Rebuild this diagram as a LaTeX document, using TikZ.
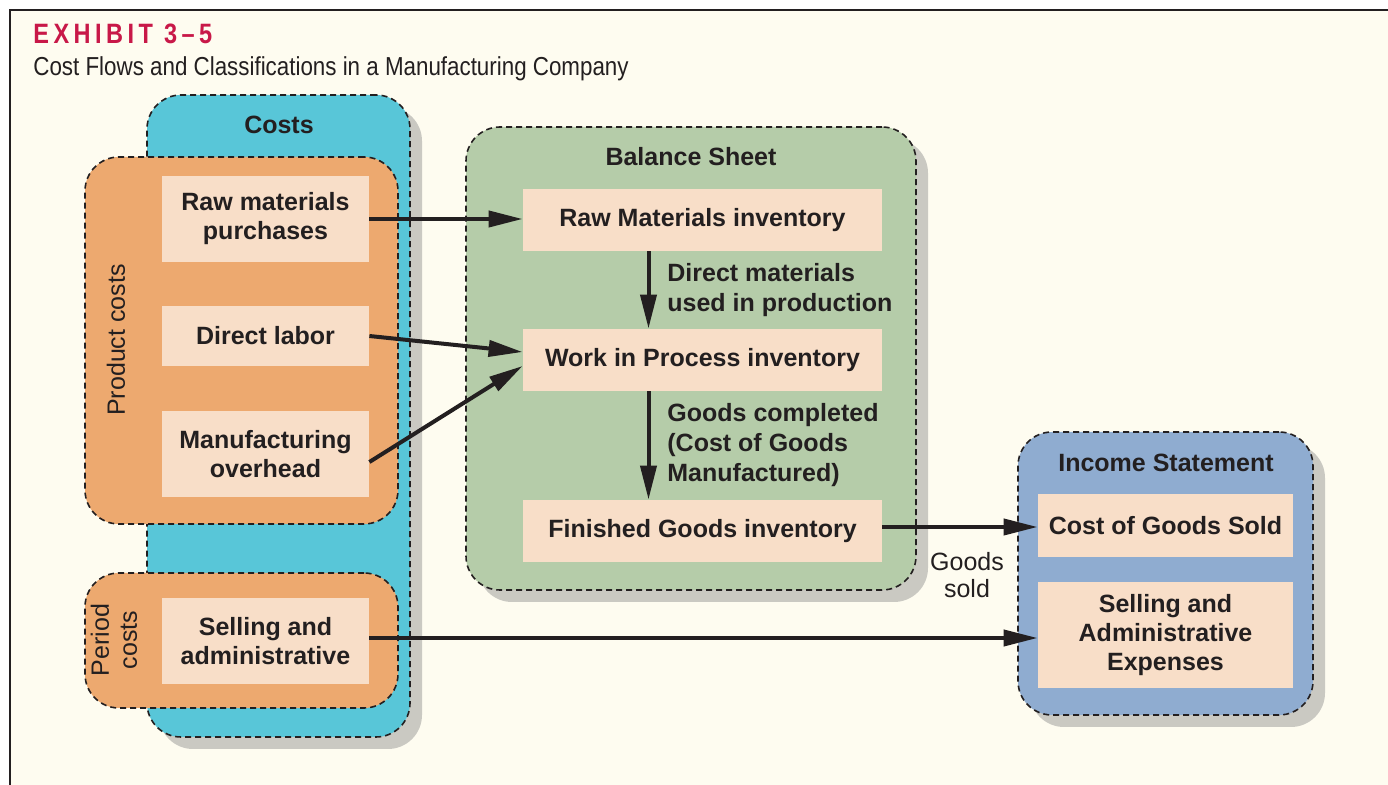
\documentclass[tikz,border=0pt]{standalone}
\usepackage{fontspec}
\setmainfont{Liberation Sans}
\newfontfamily\condfont[FakeStretch=0.86]{Liberation Sans}
\newfontfamily\titlefont[FakeStretch=0.84,LetterSpace=16]{Liberation Sans}
\usepackage{tikz}
\usetikzlibrary{positioning, arrows.meta, shadows, calc}
\usepackage{xcolor}
\definecolor{paper}{RGB}{254, 252, 240}
\definecolor{inkdark}{RGB}{35, 31, 32}
\definecolor{exhibitred}{RGB}{200, 24, 72}
\definecolor{costcyan}{RGB}{88, 198, 216}
\definecolor{costorange}{RGB}{237, 169, 111}
\definecolor{peach}{RGB}{248, 222, 200}
\definecolor{sheetgreen}{RGB}{181, 204, 169}
\definecolor{incomeblue}{RGB}{143, 172, 208}

\begin{document}
\begin{tikzpicture}[
  x=0.5pt, y=-0.5pt,
  every node/.style={text=inkdark},
  group/.style={draw=inkdark, line width=0.8pt, dash pattern=on 3pt off 2pt, rounded corners=17pt, inner sep=0pt},
  shade/.style={drop shadow={shadow xshift=6pt, shadow yshift=-6pt, fill=black!45, opacity=0.45}},
  item/.style={fill=peach, inner sep=0pt, align=center, font=\bfseries\fontsize{12.5}{14.5}\selectfont},
  head/.style={font=\bfseries\fontsize{12.5}{14.6}\selectfont},
  note/.style={align=left, anchor=west, inner sep=0pt, font=\bfseries\fontsize{12.5}{14.8}\selectfont},
  side/.style={rotate=90, align=center, inner sep=0pt, font=\fontsize{12.5}{14}\selectfont},
  arr/.style={-{Triangle[length=17pt, width=8pt]}, line width=2pt, draw=inkdark}
]
% page and frame
\useasboundingbox (0,0) rectangle (1388,785);
\fill[paper] (10,10) rectangle (1388,785);
\draw[inkdark, line width=1.4pt] (1388,10) -- (10,10) -- (10,785);
\node[anchor=base west, inner sep=0pt, text=exhibitred, font=\titlefont\bfseries\fontsize{14}{16}\selectfont] (exh) at (33,44) {EXHIBIT 3–5};
\node[anchor=base west, inner sep=0pt, font=\condfont\fontsize{13}{15}\selectfont] (sub) at (33,76) {Cost Flows and Classifications in a Manufacturing Company};

% costs column
\node[group, shade, fill=costcyan, minimum width=131.5pt, minimum height=321pt] (costs) at (278.5,416) {};
\node[head] (costslbl) at (279,125) {Costs};
\node[group, fill=costorange, minimum width=156.5pt, minimum height=183.5pt] (prod) at (241.5,340.5) {};
\node[group, fill=costorange, minimum width=156.5pt, minimum height=67.5pt] (per) at (241.5,640.5) {};
\node[side] (prodlbl) at (116,340) {Product costs};
\node[side] (perlbl) at (114,640) {Period\\costs};
\node[item, minimum width=103.5pt, minimum height=43pt] (rmp) at (265.5,219) {Raw materials\\purchases};
\node[item, minimum width=103.5pt, minimum height=30pt] (dl) at (265.5,336) {Direct labor};
\node[item, minimum width=103.5pt, minimum height=43pt] (mo) at (265.5,454) {Manufacturing\\overhead};
\node[item, minimum width=103.5pt, minimum height=43pt] (sa) at (265.5,641) {Selling and\\administrative};

% balance sheet
\node[group, shade, fill=sheetgreen, minimum width=225pt, minimum height=231.5pt] (bs) at (691,358.5) {};
\node[head] (bslbl) at (691,157) {Balance Sheet};
\node[item, minimum width=179.5pt, minimum height=31pt] (rmi) at (702.5,220) {Raw Materials inventory};
\node[item, minimum width=179.5pt, minimum height=31pt] (wip) at (702.5,360) {Work in Process inventory};
\node[item, minimum width=179.5pt, minimum height=31pt] (fg) at (702.5,531) {Finished Goods inventory};
\node[note] (dmu) at (667,290) {Direct materials\\used in production};
\node[note] (gc) at (667,445) {Goods completed\\(Cost of Goods\\Manufactured)};

% income statement
\node[group, shade, fill=incomeblue, minimum width=147.5pt, minimum height=141.5pt] (is) at (1165.5,573.5) {};
\node[head] (islbl) at (1166,463) {Income Statement};
\node[item, minimum width=127.5pt, minimum height=31.5pt] (cogs) at (1165.5,525.5) {Cost of Goods Sold};
\node[item, minimum width=127.5pt, minimum height=53pt] (sae) at (1165.5,635) {Selling and\\Administrative\\Expenses};
\node[align=center, inner sep=0pt, font=\fontsize{12.5}{13.5}\selectfont] (gs) at (967,575) {Goods\\sold};

% flows
\draw[arr] (rmp.east) -- (rmp.east -| rmi.west);
\draw[arr] (dl.east) -- ([yshift=4pt]wip.west);
\draw[arr] ([yshift=-4pt]mo.east) -- ([yshift=-3pt]wip.west);
\draw[arr] ([xshift=-27pt]rmi.south) -- ([xshift=-27pt]wip.north);
\draw[arr] ([xshift=-27pt]wip.south) -- ([xshift=-27pt]fg.north);
\draw[arr] ([yshift=2pt]fg.east) -- ([yshift=2pt]fg.east -| cogs.west);
\draw[arr] ([yshift=1.5pt]sa.east) -- ([yshift=1.5pt]sa.east -| sae.west);
\end{tikzpicture}
\end{document}
